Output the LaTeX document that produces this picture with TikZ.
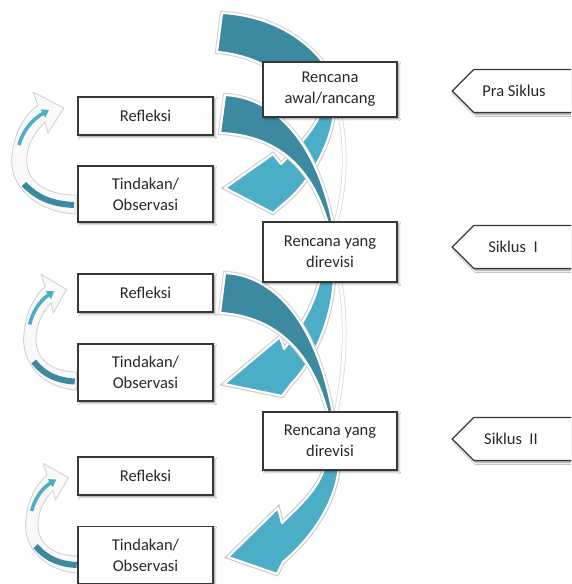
\documentclass[tikz,border=0pt]{standalone}
\usepackage{fontspec}
\setmainfont{Carlito}
\usetikzlibrary{shapes.symbols,shadows.blur,arrows.meta}
\definecolor{darkteal}{RGB}{61,138,160}
\definecolor{lightteal}{RGB}{75,173,198}
\definecolor{boxline}{RGB}{55,55,55}
\definecolor{txt}{RGB}{40,40,40}
\begin{document}
\begin{tikzpicture}[x=1pt,y=-1pt,
  lbl/.style={font=\fontsize{16.5}{21}\selectfont, text=txt, align=center},
  box/.style={lbl, draw=boxline, line width=1.1pt, fill=white, inner sep=2pt,
    blur shadow={shadow xshift=1.8pt, shadow yshift=-1.8pt, shadow blur radius=2pt, shadow opacity=45}},
  leftbox/.style={box, minimum width=135pt},
  planbox/.style={box, minimum width=134pt},
  tag/.style={lbl, signal, signal to=west, signal pointer angle=90, draw=boxline, line width=1.1pt,
    fill=white, minimum width=130pt, minimum height=43pt, inner sep=2pt,
    blur shadow={shadow xshift=1.8pt, shadow yshift=-1.8pt, shadow blur radius=2pt, shadow opacity=45}},
  band/.style={fill=darkteal, draw=white, line width=2.2pt, line join=round, preaction={draw=black!18, line width=4.2pt}},
  lband/.style={fill=lightteal, draw=white, line width=2.2pt, line join=round, preaction={draw=black!22, line width=4.2pt}},
  ring/.style={draw=white, line width=3pt, preaction={draw=black!14, line width=4.6pt}},
  cyc/.pic={
    \path[fill=gray!5, draw=gray!35, line width=0.9pt, line join=round]
      (-2,119) .. controls (-43,117) and (-70,90) .. (-66,60)
      .. controls (-63,35) and (-53,20) .. (-40,10) -- (-45,-3) -- (-14,13) -- (-30,38) -- (-33,27)
      .. controls (-46,40) and (-53,55) .. (-51,70)
      .. controls (-48,90) and (-28,100) .. (-2,100) -- cycle;
    \draw[lightteal, line width=3.5pt, -{Triangle[length=7pt,width=9pt]}]
      (-59,50) .. controls (-55,35) and (-45,24) .. (-29,15);
    \draw[darkteal, line width=6pt]
      (-54,89) .. controls (-40,104) and (-24,109) .. (-4,110);
  },
]
\clip (0,0) rectangle (571,584);
\fill[white] (0,0) rectangle (571,584);

% cycle 0 dark band (top)
\path[band] (222,13) .. controls (265,15) and (310,35) .. (335,80) -- (310,105)
  .. controls (290,75) and (255,55) .. (217,52) -- cycle;

% right rings
\path[ring] (340,116) .. controls (347,150) and (345,190) .. (336,222);
\path[ring] (340,282) .. controls (347,320) and (345,370) .. (336,412);

% cycle 1
\path[lband] (225,188) -- (273,154) -- (281,164) .. controls (300,145) and (315,128) .. (321,112)
  -- (334,112) .. controls (332,140) and (313,178) .. (288,200) -- (273,213) -- cycle;
\path[band] (225,95) .. controls (270,97) and (315,135) .. (333,224) -- (328,224)
  .. controls (310,160) and (270,135) .. (220,133) -- cycle;

% cycle 2
\path[lband] (224,384) -- (280,337) -- (284,349) .. controls (303,325) and (316,300) .. (320,278)
  -- (334,278) .. controls (332,320) and (314,360) .. (292,383) -- (282,396) -- cycle;
\path[band] (225,273) .. controls (270,275) and (315,315) .. (333,414) -- (328,414)
  .. controls (310,345) and (270,316) .. (220,313) -- cycle;

% cycle 3
\path[lband] (228,557) -- (278,508) -- (282,523) .. controls (300,505) and (318,490) .. (325,466)
  -- (339,466) .. controls (336,500) and (315,535) .. (283,562) -- (277,574) -- cycle;

% small cycle arrows
\pic at (78,95) {cyc};
\pic[xscale=0.82, yscale=0.95] at (78,277) {cyc};
\pic[xscale=0.82, yscale=0.9] at (80,466) {cyc};

% plan boxes
\node[planbox, minimum height=55pt] (plan0) at (330,89.5) {Rencana\\awal/rancang};
\node[planbox, minimum height=60pt] (plan1) at (330,252) {Rencana yang\\direvisi};
\node[planbox, minimum height=58pt] (plan2) at (330,441) {Rencana yang\\direvisi};

% left boxes
\node[leftbox, minimum height=38pt] (ref1) at (145.5,116) {Refleksi};
\node[leftbox, minimum height=56pt] (act1) at (145.5,194) {Tindakan/\\Observasi};
\node[leftbox, minimum height=38pt] (ref2) at (145.5,293) {Refleksi};
\node[leftbox, minimum height=57pt] (act2) at (145.5,372.5) {Tindakan/\\Observasi};
\node[leftbox, minimum height=38pt] (ref3) at (145.5,476) {Refleksi};
\node[leftbox, minimum height=57pt] (act3) at (145.5,555) {Tindakan/\\Observasi};

% tags
\node[tag] (pra) at (528,91) {Pra Siklus\hspace*{28pt}};
\node[tag] (sik1) at (528,247) {Siklus\ \ I\hspace*{30pt}};
\node[tag] (sik2) at (528,439) {Siklus\ \ II\hspace*{34pt}};
\end{tikzpicture}
\end{document}
